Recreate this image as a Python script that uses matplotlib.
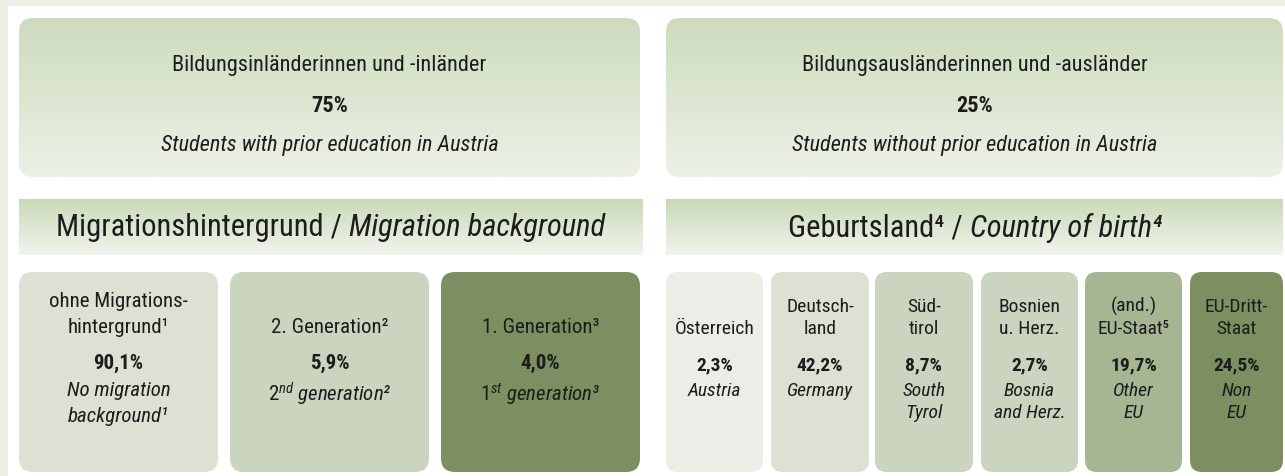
import matplotlib
matplotlib.use("Agg")
import matplotlib.pyplot as plt
import numpy as np
from matplotlib import font_manager
from matplotlib.patches import FancyBboxPatch, Rectangle
from matplotlib.colors import LinearSegmentedColormap

# pick a condensed family that is installed
available = {f.name for f in font_manager.fontManager.ttflist}
FAMILY = "DejaVu Sans"
for cand in ["Roboto Condensed", "Archivo Narrow", "PT Sans Narrow", "IBM Plex Sans Condensed",
             "Barlow Semi Condensed", "Liberation Sans Narrow"]:
    if cand in available:
        FAMILY = cand
        break

plt.rcParams["font.family"] = [FAMILY, "DejaVu Sans"]
plt.rcParams["mathtext.fontset"] = "custom"
plt.rcParams["mathtext.it"] = f"{FAMILY}:italic"
plt.rcParams["mathtext.rm"] = FAMILY
plt.rcParams["mathtext.bf"] = f"{FAMILY}:bold"

# --- data ---
top_labels_de = ["Bildungsinländerinnen und -inländer", "Bildungsausländerinnen und -ausländer"]
top_values = [75, 25]
top_labels_en = ["Students with prior education in Austria", "Students without prior education in Austria"]

header_de = ["Migrationshintergrund / ", "Geburtsland⁴ / "]
header_en = ["Migration background", "Country of birth⁴"]

migration_de = ["ohne Migrations-\nhintergrund¹", "2. Generation²", "1. Generation³"]
migration_values = [90.1, 5.9, 4.0]
migration_en = ["No migration\nbackground¹", r"$\mathit{2^{nd}}$ generation²", r"$\mathit{1^{st}}$ generation³"]
migration_colors = ["#dce1d4", "#cad4bf", "#7b8f60"]

country_de = ["Österreich", "Deutsch-\nland", "Süd-\ntirol", "Bosnien\nu. Herz.", "(and.)\nEU-Staat⁵", "EU-Dritt-\nStaat"]
country_values = [2.3, 42.2, 8.7, 2.7, 19.7, 24.5]
country_en = ["Austria", "Germany", "South\nTyrol", "Bosnia\nand Herz.", "Other\nEU", "Non\nEU"]
country_colors = ["#ededE8", "#dce1d4", "#cad4bf", "#cad4bf", "#a6b592", "#7b8f60"]


def pct(v):
    return f"{v:.1f}".replace(".", ",") + "%"


W, H = 1285, 476
fig = plt.figure(figsize=(W / 100, H / 100), dpi=100, facecolor="#efefe8")
ax = fig.add_axes([0, 0, 1, 1])
ax.set_xlim(0, W)
ax.set_ylim(H, 0)
ax.axis("off")
ax.add_patch(Rectangle((8, 6), W - 8, H - 6, facecolor="white", edgecolor="none"))


def gradient_box(x0, y0, x1, y1, c_top, c_bot, r):
    patch = FancyBboxPatch((x0, y0), x1 - x0, y1 - y0,
                           boxstyle=f"round,pad=0,rounding_size={r}",
                           facecolor="none", edgecolor="none")
    ax.add_patch(patch)
    cmap = LinearSegmentedColormap.from_list("g", [c_top, c_bot])
    grad = np.linspace(0, 1, 100).reshape(-1, 1)
    im = ax.imshow(grad, cmap=cmap, extent=(x0, x1, y1, y0), aspect="auto", zorder=1)
    im.set_clip_path(patch)


def solid_box(x0, y0, x1, y1, color, r):
    ax.add_patch(FancyBboxPatch((x0, y0), x1 - x0, y1 - y0,
                                boxstyle=f"round,pad=0,rounding_size={r}",
                                facecolor=color, edgecolor="none", zorder=1))


txt = dict(ha="center", color="#1c1c1c", zorder=3)

# top boxes
top_x = [(19, 640), (666, 1283)]
for (x0, x1), de, v, en in zip(top_x, top_labels_de, top_values, top_labels_en):
    gradient_box(x0, 18, x1, 177, "#cddbbd", "#ecf1e6", 14)
    cx = (x0 + x1) / 2
    ax.text(cx, 65, de, fontsize=16, va="center", **txt)
    ax.text(cx, 106, f"{v}%", fontsize=16, fontweight="bold", va="center", **txt)
    ax.text(cx, 146, en, fontsize=16, style="italic", va="center", **txt)

# header bands
head_x = [(19, 643), (666, 1283)]
for (x0, x1), de, en in zip(head_x, header_de, header_en):
    gradient_box(x0, 199, x1, 255, "#c9d9b7", "#f1f5ee", 0)
    cx = (x0 + x1) / 2
    t1 = ax.text(0, 0, de, fontsize=22)
    t2 = ax.text(0, 0, en, fontsize=22, style="italic")
    fig.canvas.draw()
    w1 = t1.get_window_extent().width
    w2 = t2.get_window_extent().width
    left = cx - (w1 + w2) / 2
    for t, x in ((t1, left), (t2, left + w1)):
        t.set_position((x, 228))
        t.set_va("center")
        t.set_color("#1c1c1c")
        t.set_zorder(3)

# migration boxes
mig_x = [(19, 218), (230, 429), (441, 640)]
for (x0, x1), de, v, en, c in zip(mig_x, migration_de, migration_values, migration_en, migration_colors):
    solid_box(x0, 272, x1, 472, c, 14)
    cx = (x0 + x1) / 2
    ax.text(cx, 337, de, fontsize=15, va="bottom", linespacing=1.45, **txt)
    ax.text(cx, 363, pct(v), fontsize=15, fontweight="bold", va="center", **txt)
    ax.text(cx, 381, en, fontsize=15, style="italic", va="top", linespacing=1.45, **txt)

# country boxes
cty_x = [(666, 763), (771, 869), (875, 973), (981, 1078), (1085, 1182), (1190, 1283)]
for (x0, x1), de, v, en, c in zip(cty_x, country_de, country_values, country_en, country_colors):
    solid_box(x0, 272, x1, 472, c, 12)
    cx = (x0 + x1) / 2
    ax.text(cx, 338, de, fontsize=14, va="bottom", linespacing=1.25, **txt)
    ax.text(cx, 365, pct(v), fontsize=14, fontweight="bold", va="center", **txt)
    ax.text(cx, 382, en, fontsize=14, style="italic", va="top", linespacing=1.3, **txt)

fig.savefig("out.png", dpi=100, facecolor=fig.get_facecolor())
